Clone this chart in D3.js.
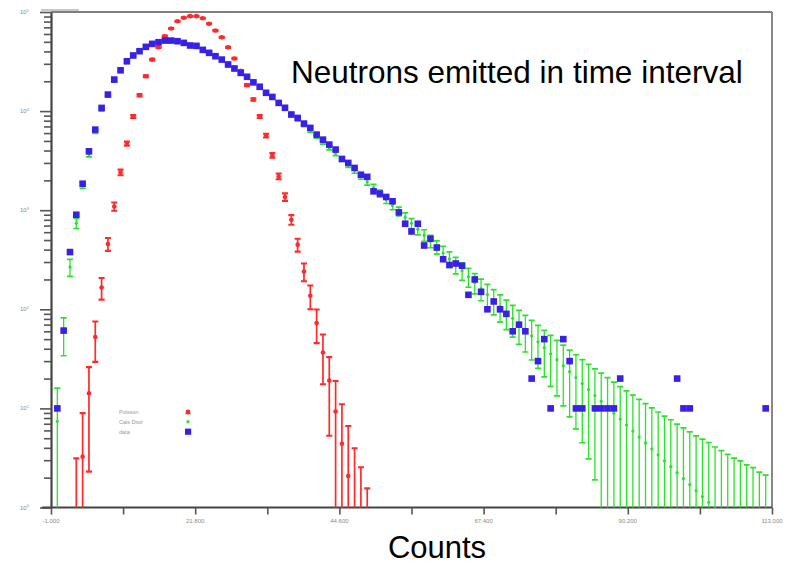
<!DOCTYPE html>
<meta charset="utf-8">
<script src="https://d3js.org/d3.v7.min.js"></script>
<style>
  body { margin: 0; background: #fff; font-family: 'Liberation Sans', Arial, sans-serif; }
</style>
<body>
<div id="my_dataviz"></div>
<script>

// Poisson curve, first bin is 3
var poissonStart = 3;
var poisson = [0.63, 3.26, 14.2, 52.4, 166, 456, 1090, 2410, 4700, 8850,
  14450, 22500, 33100, 44100, 57000, 68100, 80700, 87400, 90800, 90800,
  86500, 76000, 65000, 55500, 44000, 34000, 25500, 18300, 13100, 8850,
  5660, 3580, 2200, 1360, 802, 449, 241, 137, 72.6, 36.6,
  19.1, 9.3, 4.4, 2.08, 0.92, 0.44, 0.19];
var poissonErr = [2.5, 5.7, 11.9, 22.9, 40.7, 67.5, 104, 155, 217, 297,
  380, 474, 575, 664, 755, 825, 898, 935, 953, 953,
  930, 872, 806, 745, 663, 583, 505, 428, 362, 297,
  238, 189, 148, 117, 90, 67, 49, 37, 27, 19.1,
  13.8, 9.6, 6.6, 4.56, 3.04, 2.11, 1.37];

// calculated distribution, bins 0..112
var calcDist = [7.4, 58, 267, 740, 1800, 3640, 6200, 10300, 14500, 20000,
  25500, 31000, 36000, 40500, 44300, 47300, 49400, 50600, 51000, 50600,
  49300, 47400, 45100, 42500, 39700, 36700, 33700, 30700, 27800, 25000,
  22400, 19900, 17700, 15600, 13800, 12100, 10700, 9400, 8250, 7250,
  6350, 5560, 4870, 4270, 3740, 3280, 2870, 2520, 2200, 1930,
  1690, 1472, 1282, 1117, 973, 847, 738, 643, 560, 488,
  425, 370, 322, 281, 245, 213, 186, 162, 141, 123,
  107, 93, 81, 71, 62, 54, 47, 41, 35.6, 31,
  27, 23.5, 20.5, 17.8, 15.5, 13.5, 11.8, 10.3, 8.95, 7.8,
  6.8, 5.9, 5.14, 4.48, 3.9, 3.4, 2.96, 2.58, 2.25, 1.96,
  1.7, 1.48, 1.29, 1.13, 0.98, 0.85, 0.74, 0.65, 0.56, 0.49,
  0.43, 0.37, 0.32];
var calcErr = [8.6, 24, 52, 86, 134, 191, 249, 321, 381, 447,
  505, 557, 600, 636, 666, 688, 703, 711, 714, 711,
  702, 688, 672, 652, 630, 606, 580, 554, 527, 500,
  473, 446, 421, 395, 371, 348, 327, 307, 287, 269,
  252, 236, 221, 207, 193, 181, 169, 159, 148, 139,
  130, 121, 113, 106, 99, 92, 86, 80, 75, 70,
  65, 61, 57, 53, 49.5, 46, 43, 40, 37.5, 35,
  32.7, 30.5, 28.5, 26.6, 24.9, 23.2, 21.7, 20.2, 18.9, 17.6,
  16.4, 15.3, 14.3, 13.3, 12.4, 11.6, 10.9, 10.1, 9.5, 8.8,
  8.2, 7.7, 7.2, 6.7, 6.2, 5.8, 5.4, 5.1, 4.7, 4.4,
  4.1, 3.8, 3.6, 3.4, 3.1, 2.9, 2.7, 2.5, 2.4, 2.2,
  2.1, 1.9, 1.8];

// measured data, bins 0..112 (0 = empty bin)
var dataCounts = [10, 61, 378, 900, 1850, 3930, 6500, 10770, 14680, 20800,
  25800, 31800, 36400, 40200, 44500, 47700, 49500, 51500, 51500, 50700,
  48800, 45900, 45500, 41500, 38700, 35800, 33100, 29500, 26900, 24300,
  22200, 19500, 17600, 15300, 13900, 12100, 10800, 9230, 8530, 7480,
  6770, 5790, 5150, 4590, 4090, 3290, 3000, 2670, 2280, 2170,
  1550, 1470, 1360, 1230, 950, 730, 610, 730, 440, 515,
  420, 320, 280, 290, 275, 140, 200, 150, 100, 120,
  100, 90, 60, 70, 60, 20, 30, 50, 10, 0,
  50, 30, 10, 10, 0, 10, 10, 10, 10, 20,
  0, 0, 0, 0, 0, 0, 0, 0, 20, 10,
  10, 0, 0, 0, 0, 0, 0, 0, 0, 0,
  0, 0, 10];

var xTicks = [-1, 21.8, 44.6, 67.4, 90.2, 113];
var xTickLabels = ["-1.000", "21.800", "44.600", "67.400", "90.200", "113.000"];
var xMinorTicks = [10.4, 33.2, 56, 78.8, 101.6];
var yDecades = [1, 10, 100, 1000, 10000, 100000];
var yExponents = ["0", "1", "2", "3", "4", "5"];
var legendNames = ["Poisson", "Cals Distr", "data"];

var colRed = "#ff2a2a", colGreen = "#28e428", colBlue = "#3a1fe6";

var W = 790, H = 565;
var pLeft = 51, pRight = 772, pTop = 12, pBottom = 507.5;

var svg = d3.select("#my_dataviz")
  .append("svg")
    .attr("width", W)
    .attr("height", H);

var x = d3.scaleLinear().domain([-1, 113]).range([pLeft, pRight]);
var y = d3.scaleLog().domain([1, 1e5]).range([pBottom, pTop]);

svg.append("defs").append("clipPath").attr("id", "plotclip")
  .append("rect")
    .attr("x", pLeft).attr("y", pTop)
    .attr("width", pRight - pLeft).attr("height", pBottom - pTop);

// little grey tab at top left + frame
svg.append("line").attr("x1", 41).attr("x2", 79).attr("y1", 10).attr("y2", 10)
  .attr("stroke", "#c8c8c8").attr("stroke-width", 2);
svg.append("line").attr("x1", pLeft).attr("x2", pRight).attr("y1", pTop).attr("y2", pTop)
  .attr("stroke", "#555").attr("stroke-width", 1.5);
svg.append("line").attr("x1", pRight).attr("x2", pRight).attr("y1", pTop).attr("y2", pBottom)
  .attr("stroke", "#888").attr("stroke-width", 2);

// Y axis
var yAxis = svg.append("g")
  .attr("transform", "translate(" + pLeft + ",0)")
  .call(d3.axisLeft(y).tickFormat("").tickSizeOuter(0));
yAxis.select(".domain").attr("stroke", "#444").attr("stroke-width", 2.2);
yAxis.selectAll(".tick line")
  .attr("stroke", "#555").attr("stroke-width", 1.6)
  .attr("x2", function(d) { return yDecades.indexOf(d) >= 0 ? -11 : -7; });

var yLab = svg.append("g").selectAll("text")
  .data(yDecades)
  .enter()
  .append("text")
    .attr("x", 20)
    .attr("y", function(d) { return y(d) + 2; })
    .style("font-size", "6px")
    .attr("fill", "#8a8a8a");
yLab.append("tspan").text("10");
yLab.append("tspan")
  .attr("dy", -2.5)
  .style("font-size", "4px")
  .text(function(d, i) { return yExponents[i]; });

// X axis
var xAxis = svg.append("g")
  .attr("transform", "translate(0," + pBottom + ")")
  .call(d3.axisBottom(x).tickValues(xTicks.concat(xMinorTicks)).tickFormat("").tickSize(7).tickSizeOuter(0));
xAxis.select(".domain").attr("stroke", "#444").attr("stroke-width", 2.2)
  .attr("d", "M" + (pLeft - 9) + ",0H" + pRight);
xAxis.selectAll(".tick line").attr("stroke", "#555").attr("stroke-width", 1.6);

svg.append("g").selectAll("text")
  .data(xTicks)
  .enter()
  .append("text")
    .attr("x", function(d) { return x(d); })
    .attr("y", 523)
    .attr("text-anchor", "middle")
    .style("font-size", "6px")
    .attr("fill", "#8a8a8a")
    .text(function(d, i) { return xTickLabels[i]; });

// error bar series
var plot = svg.append("g").attr("clip-path", "url(#plotclip)");

function drawBars(vals, errs, start, color, lw, capW, r) {
  var g = plot.append("g");
  var pts = vals.map(function(n, i) { return { v: start + i, n: n, e: errs[i] }; });
  var cap = capW / 2;
  pts.forEach(function(p) {
    var cx = x(p.v);
    var hi = p.n + p.e, lo = p.n - p.e;
    var yHi = y(hi);
    var yLo = lo > 0 ? y(lo) : pBottom + 20;
    g.append("line").attr("x1", cx).attr("x2", cx).attr("y1", yLo).attr("y2", yHi)
      .attr("stroke", color).attr("stroke-width", lw);
    g.append("line").attr("x1", cx - cap).attr("x2", cx + cap).attr("y1", yHi).attr("y2", yHi)
      .attr("stroke", color).attr("stroke-width", lw + 0.4);
    if (lo > 0) {
      g.append("line").attr("x1", cx - cap).attr("x2", cx + cap).attr("y1", yLo).attr("y2", yLo)
        .attr("stroke", color).attr("stroke-width", lw + 0.4);
    }
    if (p.n > 0) {
      g.append("circle").attr("cx", cx).attr("cy", y(p.n)).attr("r", r).attr("fill", color);
    }
  });
}

drawBars(calcDist, calcErr, 0, colGreen, 1.3, 6, 1.6);
drawBars(poisson, poissonErr, poissonStart, colRed, 1.7, 6, 2.3);

// measured data squares
plot.append("g").selectAll("rect")
  .data(dataCounts.map(function(n, i) { return { v: i, n: n }; }).filter(function(d) { return d.n > 0; }))
  .enter()
  .append("rect")
    .attr("x", function(d) { return x(d.v) - 3.3; })
    .attr("y", function(d) { return y(d.n) - 3.3; })
    .attr("width", 6.6)
    .attr("height", 6.6)
    .attr("fill", colBlue);

// legend
var leg = svg.append("g");
leg.selectAll("text")
  .data(legendNames)
  .enter()
  .append("text")
    .attr("x", 119)
    .attr("y", function(d, i) { return 414 + i * 10; })
    .style("font-size", "5.5px")
    .attr("fill", "#9a9a9a")
    .text(function(d) { return d; });
leg.append("circle").attr("cx", 188).attr("cy", 412).attr("r", 2.4).attr("fill", colRed);
leg.append("line").attr("x1", 185.5).attr("x2", 190.5).attr("y1", 413.5).attr("y2", 413.5)
  .attr("stroke", colRed).attr("stroke-width", 1.4);
leg.append("circle").attr("cx", 188).attr("cy", 421.8).attr("r", 1.7).attr("fill", colGreen);
leg.append("rect").attr("x", 185).attr("y", 428.6).attr("width", 6.2).attr("height", 6.2).attr("fill", colBlue);

// titles
svg.append("text")
  .attr("x", 291)
  .attr("y", 83)
  .style("font-size", "31.5px")
  .attr("fill", "#000")
  .text("Neutrons emitted in time interval");

svg.append("text")
  .attr("x", 437)
  .attr("y", 558)
  .attr("text-anchor", "middle")
  .style("font-size", "31px")
  .attr("fill", "#000")
  .text("Counts");

</script>
</body>
